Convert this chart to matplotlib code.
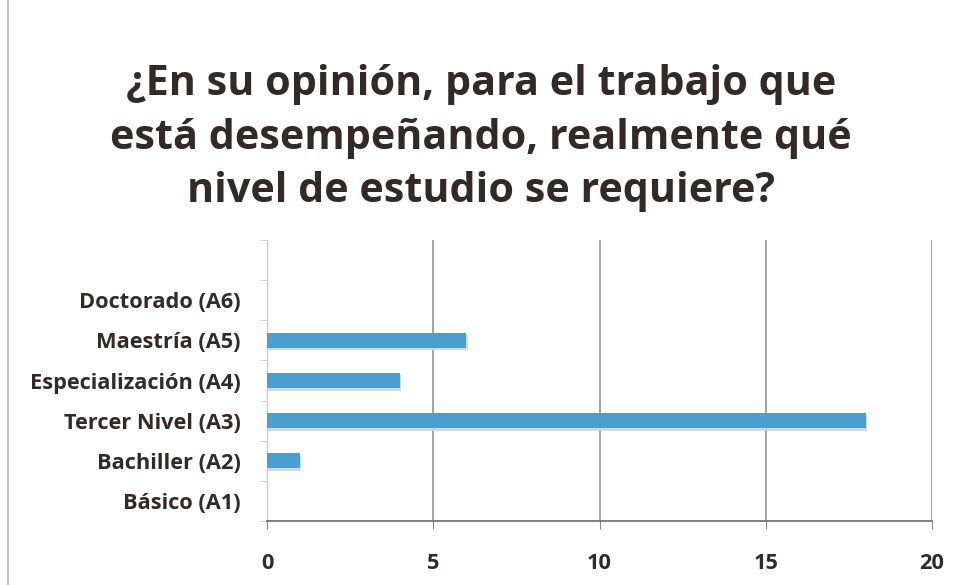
import matplotlib.pyplot as plt
import matplotlib.patheffects as pe
from matplotlib.lines import Line2D

# respuestas por nivel de estudio (de abajo hacia arriba)
niveles = ['Básico (A1)', 'Bachiller (A2)', 'Tercer Nivel (A3)',
           'Especialización (A4)', 'Maestría (A5)', 'Doctorado (A6)']
respuestas = [0, 1, 18, 4, 6, 0]
xticks = [0, 5, 10, 15, 20]

titulo = '¿En su opinión, para el trabajo que\nestá desempeñando, realmente qué\nnivel de estudio se requiere?'

texto = '#33292b'
plt.rcParams['font.family'] = ['Open Sans', 'DejaVu Sans']

fig = plt.figure(figsize=(9.62, 5.85), dpi=100)
fig.patch.set_facecolor('white')
ax = fig.add_axes([267 / 962, 1 - 521 / 585, (932 - 267) / 962, (521 - 240) / 585])

pos = list(range(len(niveles)))
bars = ax.barh(pos, respuestas, height=0.38, color='#4b9fcf', zorder=3)
for b in bars:
    b.set_path_effects([pe.SimplePatchShadow(offset=(0.8, -1.8), shadow_rgbFace='#d2d4d8', alpha=0.9),
                        pe.Normal()])

ax.set_xlim(0, 20)
ax.set_ylim(-0.5, 6.5)
ax.set_xticks(xticks)
ax.set_xticklabels([str(v) for v in xticks])
ax.set_yticks(pos)
ax.set_yticklabels(niveles)
ax.set_yticks([i - 0.5 for i in range(8)], minor=True)

ax.grid(axis='x', color='#8a8a8a', linewidth=1.1, zorder=0)
for s in ['top', 'right']:
    ax.spines[s].set_visible(False)
ax.spines['left'].set_color('#c8c8c8')
ax.spines['bottom'].set_color('#6a6a6a')
ax.spines['bottom'].set_linewidth(1.2)

ax.tick_params(axis='y', which='major', length=0, pad=19, labelsize=15.7, labelcolor=texto)
ax.tick_params(axis='y', which='minor', length=5, color='#c8c8c8')
ax.tick_params(axis='x', length=6, color='#8a8a8a', pad=17, labelsize=15.7, labelcolor=texto)
for lab in ax.get_xticklabels() + ax.get_yticklabels():
    lab.set_fontweight('bold')

fig.text(0.5, 1 - 138 / 585, titulo, ha='center', va='center', fontsize=29.7,
         fontweight='bold', color=texto, linespacing=1.4)

# borde izquierdo de la hoja
fig.add_artist(Line2D([8 / 962, 8 / 962], [0, 1], color='#b8b8b8', linewidth=1.2))

fig.savefig('out.png', dpi=100, facecolor='white')
